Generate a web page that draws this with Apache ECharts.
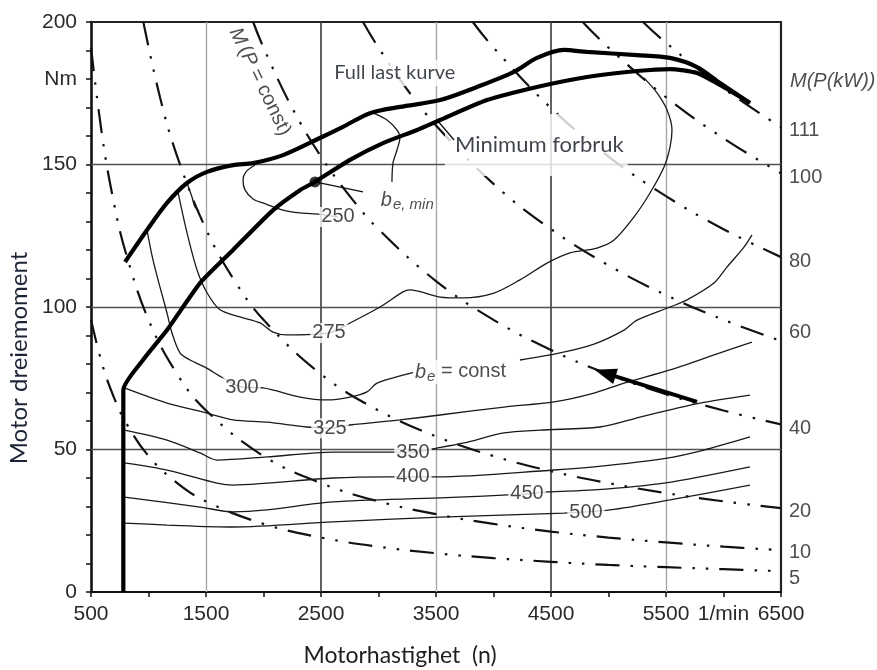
<!DOCTYPE html>
<html><head><meta charset="utf-8">
<script src="https://cdn.jsdelivr.net/npm/echarts@6/dist/echarts.min.js"></script>
<style>html,body{margin:0;padding:0;background:#fff}#c{width:877px;height:670px}</style>
</head><body><div id="c"></div>
<script>
// ---------- tick labels ----------
const xTickValues = [500, 1500, 2500, 3500, 4500, 5500, 6000, 6500];
const xTickLabels = ['500', '1500', '2500', '3500', '4500', '5500', '1/min', '6500'];
const yTickValues = [0, 50, 100, 150, 180, 200];
const yTickLabels = ['0', '50', '100', '150', 'Nm', '200'];

// ---------- thick curves (n [1/min], M [Nm]) ----------
const fullLoad = [[796,115.8],[987,127],[1161,136.5],[1335,143.5],[1509,147.4],[1735,149.8],[1909,150.5],[2170,153.3],[2491,159.3],[2691,163.2],[2926,168],[3187,170.2],[3535,172.6],[3857,177.2],[4178,182.5],[4378,187.4],[4613,190.2],[4813,189.5],[5248,188.4],[5535,187.4],[5770,184.2],[5970,178.6],[6230,171.6]];
const minConsumption = [[781,0],[781,70.9],[952,81.4],[1161,91.9],[1448,108.4],[1735,120],[2083,134],[2317,141],[2448,143.9],[2752,151.6],[3039,157.5],[3335,162.1],[3535,165.6],[3943,172.6],[4378,177.2],[4813,180.7],[5248,182.8],[5535,183.5],[5770,182.1],[5970,177.9],[6230,171.6]];
const beMinPoint = [2448, 143.9];

// ---------- fuel consumption contours b_e (g/kWh) ----------
const c250a = [[1926,149.8],[1848,147.4],[1822,144.6],[1839,141.1],[1909,137.9],[1996,136.5],[2170,134],[2317,133],[2491,132.5],[2648,131.6]];
const c250b = [[2952,168.1],[3074,165.6],[3161,162.1],[3187,159.6],[3161,155.1],[3126,150.5],[3117,143.9]];
const c275 = [[1257,140.2],[1335,126],[1422,113],[1509,105],[1622,99],[1796,96.5],[1970,94.4],[2083,91.2],[2204,90.2],[2570,90.9],[2752,94.4],[3013,100],[3213,105.3],[3274,106],[3535,103.5],[3735,103.2],[4004,104.9],[4230,109.5],[4465,115.4],[4665,119],[4900,120.7],[5048,123.5],[5222,131.6],[5361,140],[5483,149.1],[5535,156.1],[5552,162.1],[5509,169.1],[5422,175.1],[5309,180.4]];
const cShort = [[1335,143.5],[1378,138.6],[1404,135.1],[1439,133.7]];
const c300a = [[987,127],[1039,116.5],[1100,107],[1161,97.9],[1204,90.9],[1274,83.9],[1361,81.4],[1491,78.9],[1648,75.1],[1813,71.9],[1996,71.6],[2317,68.4],[2552,67.4],[2752,68.4],[2900,70.2],[2987,73.3],[3213,76.1],[3300,77]];
const c300b = [[4230,81.4],[4578,83.9],[4874,87],[5135,91.9],[5248,95.4],[5535,100],[5683,102.5],[5917,108.4],[6030,114],[6178,121],[6248,125.3]];
const c325 = [[795,71.5],[1161,66.3],[1509,62.8],[1735,60.4],[2030,59.6],[2378,57.9],[2578,57.5],[2752,58.6],[3187,60.4],[3535,62.1],[4091,64.9],[4526,66.7],[4874,69.8],[5135,73.3],[5535,77.9],[5970,83.9],[6248,87.7]];
const c350 = [[790,56.8],[1161,53.3],[1448,48.8],[1596,46.3],[2030,47.4],[2604,49.1],[3100,49.1],[3300,49.1],[3509,50.5],[3744,52.3],[4091,55.8],[4404,56.8],[4926,57.9],[5274,61.4],[5535,63.9],[5796,66.3],[6230,69.1]];
const c400 = [[790,45.3],[1161,42.8],[1596,38.2],[1735,37.5],[2030,38.2],[2604,40],[3100,40.4],[3300,40.4],[3509,40.4],[4526,42.8],[4874,43.9],[5509,47],[5830,49.8],[6230,54.4]];
const c450 = [[790,33.3],[1448,29.8],[1735,28.1],[2030,28.8],[2604,31.6],[3535,33],[4291,34.4],[4465,35.1],[4874,35.8],[5483,38.2],[6230,43.9]];
const c500 = [[790,24.2],[1161,23.5],[1735,22.8],[2604,24.6],[3535,26.3],[4613,27.7],[5013,28.8],[5535,32.3],[6230,37.5]];
const contourLabelText = ['250', '275', '300', '325', '350', '400', '450', '500'];
const contourLabelPos = [[2648,131.6],[2570,90.9],[1813,71.9],[2578,57.5],[3300,49.1],[3300,40.4],[4291,34.6],[4804,27.8]];

// ---------- constant power curves M(P) ----------
const p5 = [[500,95.5],[600,79.6],[700,68.2],[800,59.7],[1000,47.7],[1250,38.2],[1500,31.8],[2000,23.9],[2500,19.1],[3000,15.9],[3500,13.6],[4000,11.9],[4500,10.6],[5000,9.5],[5500,8.7],[6000,8.0],[6500,7.3]];
const p10 = [[500,191],[600,159.2],[700,136.4],[800,119.4],[1000,95.5],[1250,76.4],[1500,63.7],[2000,47.7],[2500,38.2],[3000,31.8],[3500,27.3],[4000,23.9],[4500,21.2],[5000,19.1],[5500,17.4],[6000,15.9],[6500,14.7]];
const p20 = [[955,200],[1100,173.6],[1250,152.8],[1500,127.3],[1750,109.1],[2000,95.5],[2500,76.4],[3000,63.7],[3500,54.6],[4000,47.7],[4500,42.4],[5000,38.2],[5500,34.7],[6000,31.8],[6500,29.4]];
const p40 = [[1910,200],[2000,191],[2250,169.8],[2500,152.8],[2750,138.9],[3000,127.3],[3500,109.1],[4000,95.5],[4500,84.9],[5000,76.4],[5500,69.4],[6000,63.7],[6500,58.8]];
const p60 = [[2865,200],[3000,191],[3250,176.3],[3500,163.7],[4000,143.2],[4500,127.3],[5000,114.6],[5500,104.2],[6000,95.5],[6500,88.1]];
const p80 = [[3820,200],[4000,191],[4500,169.8],[5000,152.8],[5500,138.9],[6000,127.3],[6500,117.5]];
const p100 = [[4775,200],[5000,191],[5500,173.6],[6000,159.2],[6500,146.9]];
const p111 = [[5300,200],[5500,192.7],[6000,176.7],[6500,163.1]];
const rightLabelText = ['111', '100', '80', '60', '40', '20', '10', '5'];
const rightLabelTorque = [162.1, 145.6, 115.8, 90.9, 57.5, 28.1, 13.7, 4.9];

// ---------- grid lines ----------
const gridX = [1500, 2500, 3500, 4500, 5500];
const gridXStrong = [false, true, false, true, false];
const gridY = [50, 100, 150];

// ---------- annotations ----------
const beMinPointer = [[2448,143.9],[2865,140.4]];
const minPointer = [[3509,165.6],[3657,158.6]];
const arrowFrom = [5770, 66.7];
const arrowTo = [4970, 76.8];
const annFullLoad = [2580, 182.1];
const annMinimum = [3578, 156.8];
const annPconst = [1970, 179];
const annBeMin = [3020, 137.5];
const annBeConst = [3317, 77.2];
const annMPkW = [6500, 179.3];

const FONT = "'Liberation Sans', Arial, sans-serif";
const FONT2 = "Lato, 'Open Sans', sans-serif";

const chart = echarts.init(document.getElementById('c'), null, {renderer: 'canvas'});

function line(data, style, z, smooth) {
  return {type: 'line', data: data, symbol: 'none', showSymbol: false, smooth: smooth === undefined ? 0.3 : smooth,
    lineStyle: style, z: z, silent: true, animation: false};
}
const dashDot = {color: '#111', width: 2.2, type: [24, 11, 2.5, 11, 2.5, 11]};
const contourStyle = {color: '#1a1a1a', width: 1.3};
const thick = {color: '#000', width: 4.2};

const series = [];
// grid lines via markLine
series.push({
  type: 'line', data: [], silent: true, animation: false,
  markLine: {
    silent: true, symbol: ['none', 'none'], z: 1, animation: false, label: {show: false},
    data: gridX.map((v, i) => ({xAxis: v, lineStyle: {color: gridXStrong[i] ? '#3a3a3a' : '#a8a8a8', width: gridXStrong[i] ? 1.6 : 1.4, type: 'solid'}}))
      .concat(gridY.map(v => ({yAxis: v, lineStyle: {color: '#505050', width: 1.3, type: 'solid'}})))
  }
});
[p5, p10, p20, p40, p60, p80, p100, p111].forEach(p => series.push(line(p, dashDot, 2, 0.4)));

// text boxes (under curves)
series.push({
  type: 'scatter', z: 3, symbolSize: 0, silent: true, animation: false,
  itemStyle: {color: 'rgba(0,0,0,0)'},
  data: [
    {value: annFullLoad, label: {formatter: 'Full last kurve', fontSize: 20, padding: [3, 4, 3, 4]}},
    {value: annMinimum, label: {formatter: 'Minimum forbruk', fontSize: 22, padding: [20, 4, 20, 10]}}
  ],
  label: {show: true, position: 'right', distance: 0, color: '#10151f', fontFamily: FONT2, fontSize: 20, backgroundColor: '#fff'}
});

[c250a, c250b, c275, cShort, c300a, c300b, c325, c350, c400, c450, c500].forEach(c => series.push(line(c, contourStyle, 4, 0.3)));
series.push(line(beMinPointer, {color: '#111', width: 1.5}, 4, false));
series.push(line(minPointer, {color: '#111', width: 1.3}, 4, false));
series.push(line(fullLoad, thick, 4, 0.3));
series.push(line(minConsumption, thick, 4, 0.2));

// min point + arrow
series.push({
  type: 'scatter', z: 6, silent: true, animation: false, data: [beMinPoint], symbolSize: 11, itemStyle: {color: '#000'},
  markLine: {silent: true, z: 6, animation: false, symbol: ['none', 'triangle'], symbolSize: [16, 22], label: {show: false},
    lineStyle: {color: '#000', width: 4, type: 'solid'},
    data: [[{coord: arrowFrom}, {coord: arrowTo}]]}
});

// contour labels
series.push({
  type: 'scatter', z: 5, symbolSize: 0, silent: true, animation: false, itemStyle: {color: 'rgba(0,0,0,0)'},
  data: contourLabelPos.map((p, i) => ({value: p, label: {formatter: contourLabelText[i]}})),
  label: {show: true, position: 'inside', fontSize: 20, color: '#1a1a1a', fontFamily: FONT, backgroundColor: '#fff', padding: [0, 2]}
});

// other text annotations
series.push({
  type: 'scatter', z: 5, symbolSize: 0, silent: true, animation: false, itemStyle: {color: 'rgba(0,0,0,0)'},
  data: [
    {value: annBeMin, label: {position: 'right', distance: 0, formatter: '{b|b}{s|e, min}'}},
    {value: annBeConst, label: {position: 'right', distance: 0, formatter: '{b|b}{s|e}{n| = const}', backgroundColor: '#fff'}},
    {value: annPconst, label: {position: 'inside', rotate: -64, formatter: '{b|M} {n|(}{b|P}{n| = const)}'}},
    {value: annMPkW, label: {position: 'right', distance: 9, formatter: '{b|M(P(kW))}'}}
  ].concat(rightLabelTorque.map((t, i) => ({value: [6500, t], label: {position: 'right', distance: 8, formatter: '{n|' + rightLabelText[i] + '}'}}))),
  label: {show: true, color: '#222', fontFamily: FONT,
    rich: {
      b: {fontSize: 20, fontStyle: 'italic', fontFamily: FONT, color: '#222', lineHeight: 24},
      s: {fontSize: 15, fontStyle: 'italic', fontFamily: FONT, color: '#222', lineHeight: 24, padding: [9, 0, 0, 1]},
      n: {fontSize: 20, fontFamily: FONT, color: '#222', lineHeight: 24}
    }}
});

const option = {
  animation: false,
  backgroundColor: '#fff',
  grid: {left: 91, right: 96, top: 22, bottom: 78, containLabel: false},
  xAxis: [{
    type: 'value', min: 500, max: 6500, interval: 500,
    axisLine: {show: true, onZero: false, lineStyle: {color: '#111', width: 2}},
    axisTick: {show: true, length: 5, lineStyle: {color: '#111', width: 1.5}},
    axisLabel: {show: true, margin: 12, fontSize: 21, color: '#2a2a2a', fontFamily: FONT, showMinLabel: true, showMaxLabel: true,
      formatter: v => { const i = xTickValues.indexOf(v); return i >= 0 ? xTickLabels[i] : ''; }},
    splitLine: {show: false}
  }, {
    type: 'value', position: 'top', min: 500, max: 6500, interval: 500,
    axisLine: {show: true, onZero: false, lineStyle: {color: '#222', width: 2.2}},
    axisTick: {show: false}, axisLabel: {show: false}, splitLine: {show: false}
  }],
  yAxis: [{
    type: 'value', min: 0, max: 200, interval: 10,
    axisLine: {show: true, onZero: false, lineStyle: {color: '#111', width: 2.6}},
    axisTick: {show: true, length: 5, lineStyle: {color: '#111', width: 1.5}},
    axisLabel: {show: true, margin: 14, fontSize: 21, color: '#2a2a2a', fontFamily: FONT, showMinLabel: true, showMaxLabel: true,
      formatter: v => { const i = yTickValues.indexOf(v); return i >= 0 ? yTickLabels[i] : ''; }},
    splitLine: {show: false}
  }, {
    type: 'value', position: 'right', min: 0, max: 200, interval: 10,
    axisLine: {show: true, onZero: false, lineStyle: {color: '#222', width: 2.2}},
    axisTick: {show: false}, axisLabel: {show: false}, splitLine: {show: false}
  }],
  graphic: [
    {type: 'text', x: 400, y: 656, silent: true,
      style: {text: 'Motorhastighet  (n)', font: "23px Lato, 'Open Sans', sans-serif", fill: '#1e1e1e', align: 'center', verticalAlign: 'middle', textAlign: 'center', textVerticalAlign: 'middle'}},
    {type: 'text', x: 19, y: 358, rotation: Math.PI / 2, silent: true,
      style: {text: 'Motor dreiemoment', font: "24px Lato, 'Open Sans', sans-serif", fill: '#1c2436', align: 'center', verticalAlign: 'middle', textAlign: 'center', textVerticalAlign: 'middle'}}
  ],
  series: series
};
chart.setOption(option);
</script></body></html>
